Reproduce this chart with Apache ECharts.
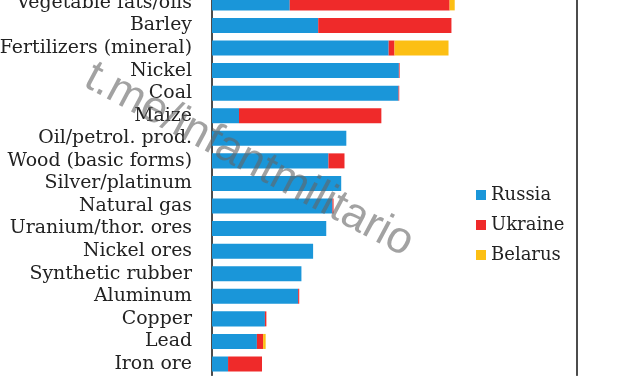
<!DOCTYPE html>
<html>
<head>
<meta charset="utf-8">
<script src="https://cdn.jsdelivr.net/npm/echarts@6/dist/echarts.min.js"></script>
<style>
  html, body { margin: 0; padding: 0; background: #ffffff; }
  #chart { width: 627px; height: 376px; }
</style>
</head>
<body>
<div id="chart"></div>
<script>
// Categories (top to bottom)
var categories = [
  "Vegetable fats/oils", "Barley", "Fertilizers (mineral)", "Nickel", "Coal",
  "Maize", "Oil/petrol. prod.", "Wood (basic forms)", "Silver/platinum",
  "Natural gas", "Uranium/thor. ores", "Nickel ores", "Synthetic rubber",
  "Aluminum", "Copper", "Lead", "Iron ore"
];
// Shares (%)
var russia  = [21.3, 29.1, 48.4, 51.2, 51.1, 7.4, 36.8, 31.9, 35.4, 33.0, 31.3, 27.7, 24.5, 23.6, 14.5, 12.3, 4.4];
var ukraine = [43.8, 36.5, 1.6, 0.2, 0.2, 39.0, 0, 4.4, 0, 0.3, 0, 0, 0, 0.3, 0.4, 1.7, 9.3];
var belarus = [1.4, 0, 14.8, 0, 0, 0, 0, 0, 0, 0, 0, 0, 0, 0, 0, 0.7, 0];
var seriesNames = ["Russia", "Ukraine", "Belarus"];
var watermarkText = "t.me/infantmilitario";

var colors = ["#1a96d9", "#ef2a2a", "#fcbf14"];
var serif = "'DejaVu Serif', 'Liberation Serif', serif";

var chart = echarts.init(document.getElementById('chart'), null, { renderer: 'canvas' });
var values = [russia, ukraine, belarus];
var option = {
  animation: false,
  backgroundColor: '#ffffff',
  grid: { left: 212, right: 50, top: -8.4, height: 383.7, containLabel: false, outerBoundsMode: 'none' },
  legend: {
    orient: 'vertical',
    left: 471,
    top: 181,
    icon: 'rect',
    itemWidth: 10,
    itemHeight: 10,
    itemGap: 12,
    data: seriesNames,
    textStyle: { fontFamily: serif, fontSize: 18, color: '#222' }
  },
  xAxis: {
    type: 'value', min: 0, max: 100,
    axisLine: { show: false }, axisTick: { show: false },
    axisLabel: { show: false }, splitLine: { show: false }
  },
  yAxis: [{
    type: 'category', data: categories, inverse: true,
    axisLine: { show: true, lineStyle: { color: '#111', width: 1.5 } },
    axisTick: { show: false },
    axisLabel: { interval: 0, fontFamily: serif, fontSize: 18.9, color: '#222', margin: 20 }
  }, {
    type: 'category', data: categories, inverse: true, position: 'right',
    axisLine: { show: true, lineStyle: { color: '#111', width: 1.5 } },
    axisTick: { show: false }, axisLabel: { show: false }
  }],
  series: seriesNames.map(function (n, i) {
    return {
      name: n, type: 'bar', stack: 'total', barWidth: '66.5%',
      itemStyle: { color: colors[i] },
      data: values[i]
    };
  }),
  graphic: [{
    type: 'text', x: 249, y: 160, rotation: -28 * Math.PI / 180,
    z: 100,
    style: {
      text: watermarkText, fill: 'rgba(100,100,100,0.6)',
      font: "45px 'Liberation Sans', Arial, sans-serif",
      align: 'center', verticalAlign: 'middle'
    }
  }]
};
chart.setOption(option);
</script>
</body>
</html>
